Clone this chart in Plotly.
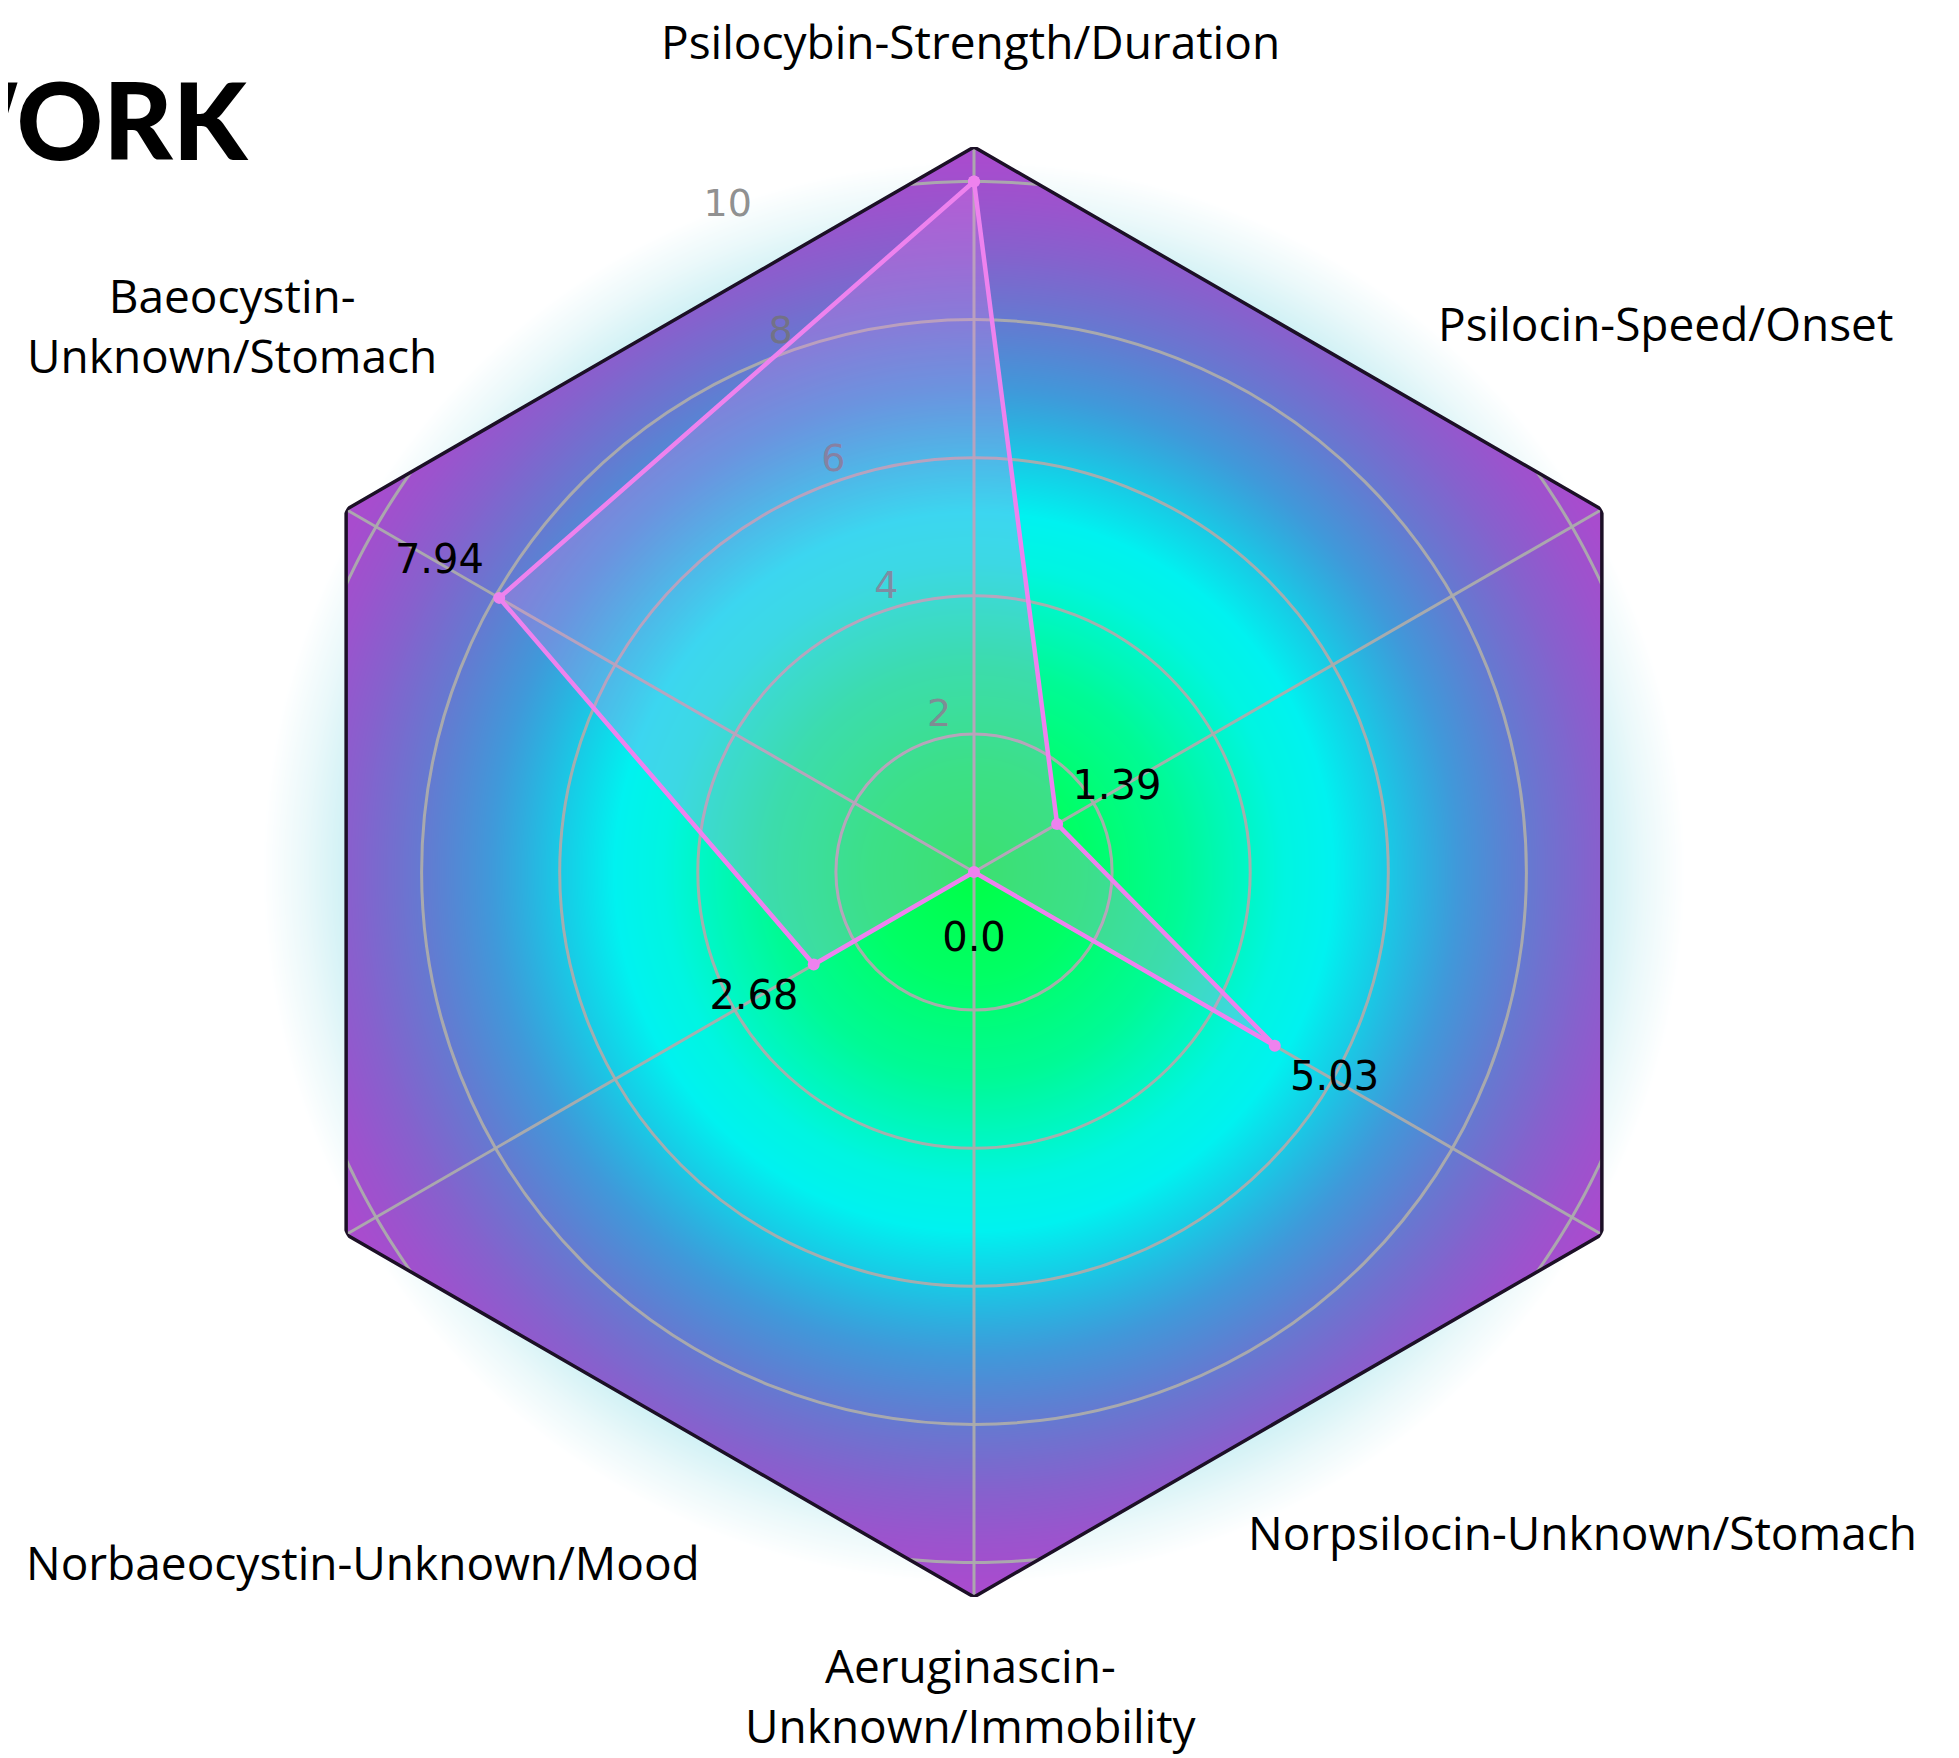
import base64, struct, zlib
import numpy as np
import plotly.graph_objects as go

# ---------------- data ----------------
categories = [
    "Psilocybin-Strength/Duration",
    "Psilocin-Speed/Onset",
    "Norpsilocin-Unknown/Stomach",
    "Aeruginascin-Unknown/Immobility",
    "Norbaeocystin-Unknown/Mood",
    "Baeocystin-Unknown/Stomach",
]
display_labels = [
    "Psilocybin-Strength/Duration",
    "Psilocin-Speed/Onset",
    "Norpsilocin-Unknown/Stomach",
    "Aeruginascin-<br>Unknown/Immobility",
    "Norbaeocystin-Unknown/Mood",
    "Baeocystin-<br>Unknown/Stomach",
]
values = [10.0, 1.39, 5.03, 0.0, 2.68, 7.94]
radial_ticks = [2, 4, 6, 8, 10]
title_text = "WORK"

# ---------------- geometry ----------------
W, H = 1959, 1758
OFF = 8                      # page body margin
R_MAX = 10.5
cx, cy, rad = 974 - OFF, 872 - OFF, 725
dom_x = [(cx - rad) / W, (cx + rad) / W]
dom_y = [1 - (cy + rad) / H, 1 - (cy - rad) / H]
u = rad / R_MAX
n = len(categories)
cat_angles = [i * 360.0 / n for i in range(n)]

# ---------------- background (hexagon + radial glow) ----------------
S = 2 * rad
jj, ii = np.meshgrid(np.arange(S) + 0.5 - rad, rad - (np.arange(S) + 0.5))
xu, yu = jj / u, ii / u
r = np.hypot(xu, yu)
t = r / 10.0
apothem = R_MAX * np.cos(np.pi / n)
d = np.full(r.shape, -1e9)
for k in range(n):
    a = np.deg2rad(360.0 / n * k)
    d = np.maximum(d, xu * np.cos(a) + yu * np.sin(a))
cov = np.clip(0.5 - (d - apothem) * u, 0, 1)
P = np.array([168, 76, 206], float)
base = cov[..., None] * P + (1 - cov[..., None]) * 255.0
A = np.interp(t, [0, 0.52, 0.6, 0.7, 0.8, 0.9, 0.97, 1.03], [1, 1, 0.85, 0.62, 0.4, 0.2, 0.08, 0])
Ts = [0, 0.15, 0.3, 0.45, 0.52, 0.7, 1.0]
Cg = np.interp(t, Ts, [255, 255, 250, 245, 242, 200, 170])
Cb = np.interp(t, Ts, [70, 100, 150, 225, 240, 225, 190])
C = np.stack([np.zeros_like(t), Cg, Cb], axis=-1)
rgb = A[..., None] * C + (1 - A[..., None]) * base
rgba = np.concatenate([rgb, np.full(t.shape + (1,), 255.0)], axis=-1)
rgba = np.clip(np.round(rgba), 0, 255).astype(np.uint8)


def png_uri(img):
    h, w = img.shape[:2]
    raw = np.concatenate([np.zeros((h, 1), np.uint8), img.reshape(h, w * 4)], axis=1).tobytes()

    def chunk(tag, data):
        return struct.pack(">I", len(data)) + tag + data + struct.pack(">I", zlib.crc32(tag + data) & 0xFFFFFFFF)

    png = (b"\x89PNG\r\n\x1a\n" + chunk(b"IHDR", struct.pack(">IIBBBBB", w, h, 8, 6, 0, 0, 0))
           + chunk(b"IDAT", zlib.compress(raw, 9)) + chunk(b"IEND", b""))
    return "data:image/png;base64," + base64.b64encode(png).decode()


GRID = "rgba(172,172,172,0.95)"
fig = go.Figure()

# --- bottom polar: grid decorations, frame, radial tick labels ---
# outer (r=10) grid circle only where it lies inside the hexagon frame
dth = 360.0 / (2 * n) - np.degrees(np.arccos(apothem / radial_ticks[-1]))
arc_r, arc_t = [], []
for ang in cat_angles:
    th = np.linspace(ang - dth, ang + dth, 20)
    arc_t += list(th) + [None]
    arc_r += [radial_ticks[-1]] * len(th) + [None]
fig.add_trace(go.Scatterpolar(r=arc_r, theta=arc_t, mode="lines", line=dict(color=GRID, width=3),
                              subplot="polar", hoverinfo="skip", showlegend=False))
fig.add_trace(go.Scatterpolar(
    r=[R_MAX] * (n + 1), theta=cat_angles + [360.0], mode="lines",
    line=dict(color="#1c1026", width=3.5), subplot="polar", hoverinfo="skip", showlegend=False))

# radial tick labels (matplotlib style: at 112.5 deg plus a small pixel offset)
lab_r, lab_t = [], []
for v in radial_ticks:
    px = v * u * np.cos(np.radians(112.5)) + 18
    py = v * u * np.sin(np.radians(112.5)) + 28
    lab_r.append(np.hypot(px, py) / u)
    lab_t.append(90.0 - np.degrees(np.arctan2(py, px)))
fig.add_trace(go.Scatterpolar(
    r=lab_r, theta=lab_t, mode="text", text=[str(v) for v in radial_ticks],
    textposition="middle center", textfont=dict(family="DejaVu Sans", size=38, color="rgba(115,115,115,0.8)"),
    subplot="polar", cliponaxis=False, hoverinfo="skip", showlegend=False))

# --- top polar: the data ---
theta_closed = categories + [categories[0]]
fig.add_trace(go.Scatterpolar(
    r=values + [values[0]], theta=theta_closed, mode="lines+markers",
    fill="toself", fillcolor="rgba(238,130,238,0.25)",
    line=dict(color="#ee82ee", width=4.5), marker=dict(size=12, color="#ee82ee"),
    subplot="polar2", showlegend=False))
fig.add_trace(go.Scatterpolar(
    r=[v + 1 for v in values], theta=categories, mode="text",
    text=[str(v) for v in values], textposition="middle center",
    textfont=dict(family="DejaVu Sans", size=40, color="black"),
    subplot="polar2", cliponaxis=False, showlegend=False, hoverinfo="skip"))

fig.update_layout(
    width=W, height=H, autosize=False,
    margin=dict(l=0, r=0, t=0, b=0),
    paper_bgcolor="white", plot_bgcolor="white",
    polar=dict(
        domain=dict(x=dom_x, y=dom_y),
        bgcolor="rgba(0,0,0,0)",
        gridshape="circular",
        radialaxis=dict(range=[0, R_MAX], tickvals=radial_ticks[:-1], showticklabels=False,
                        showline=False, ticks="", gridcolor=GRID, gridwidth=3),
        angularaxis=dict(type="linear", thetaunit="degrees", rotation=90, direction="clockwise",
                         tickvals=cat_angles, showticklabels=False, ticks="", showline=False,
                         gridcolor=GRID, gridwidth=3),
    ),
    polar2=dict(
        domain=dict(x=dom_x, y=dom_y),
        bgcolor="rgba(0,0,0,0)",
        radialaxis=dict(range=[0, R_MAX], visible=False),
        angularaxis=dict(categoryorder="array", categoryarray=categories, rotation=90,
                         direction="clockwise", showticklabels=False, ticks="", showline=False,
                         showgrid=False),
    ),
    images=[dict(source=png_uri(rgba), xref="paper", yref="paper", x=dom_x[0], y=dom_y[1],
                 sizex=dom_x[1] - dom_x[0], sizey=dom_y[1] - dom_y[0], xanchor="left", yanchor="top",
                 sizing="stretch", layer="below")],
)

label_pos = [(970, 41), (1665, 323), (1582, 1532), (971, 1695), (363, 1562), (232, 325)]
for txt, (px, py) in zip(display_labels, label_pos):
    fig.add_annotation(text=txt, x=(px - OFF) / W, y=1 - (py - OFF) / H, xref="paper", yref="paper",
                       xanchor="center", yanchor="middle", showarrow=False,
                       font=dict(family="Open Sans", size=46, color="black"))

fig.add_annotation(text=title_text, x=(251 - OFF) / W, y=1 - 111 / H, xref="paper", yref="paper",
                   xanchor="right", yanchor="middle", showarrow=False,
                   font=dict(family="Lato", size=107, color="black", weight=900))

fig.write_html("out.html")
